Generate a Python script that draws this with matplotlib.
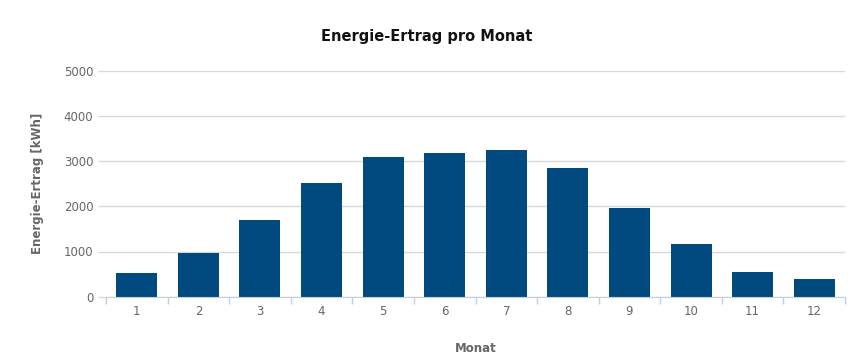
import numpy as np
import matplotlib
matplotlib.use("Agg")
import matplotlib.pyplot as plt

months = ["1", "2", "3", "4", "5", "6", "7", "8", "9", "10", "11", "12"]
ertrag = [530, 975, 1690, 2520, 3100, 3185, 3240, 2850, 1970, 1165, 555, 392]
yticks = [0, 1000, 2000, 3000, 4000, 5000]

bar_color = "#004a80"
text_gray = "#666666"

fig = plt.figure(figsize=(8.65, 3.61), dpi=100)
ax = fig.add_axes([106 / 865, 1 - 296.7 / 361, 739 / 865, 226 / 361])

x = np.arange(len(months))
ax.bar(x, ertrag, width=0.665, color=bar_color, zorder=3)

ax.set_xlim(-0.5, len(months) - 0.5)
ax.set_ylim(0, 5000)
ax.set_yticks(yticks)
ax.set_yticklabels([str(v) for v in yticks])
ax.set_xticks(x)
ax.set_xticklabels(months)
# category boundary ticks
ax.set_xticks(np.arange(-0.5, len(months)), minor=True)

ax.grid(axis="y", color="#d8d8d8", linewidth=1, zorder=0)
for s in ["top", "right", "left"]:
    ax.spines[s].set_visible(False)
ax.spines["bottom"].set_color("#c0d0e0")
ax.spines["bottom"].set_zorder(4)

ax.tick_params(axis="x", which="major", length=0, pad=6, labelsize=8.5, labelcolor=text_gray)
ax.tick_params(axis="x", which="minor", length=5, color="#c0d0e0", width=1)
ax.tick_params(axis="y", length=6, color="#d8d8d8", width=1, pad=3, labelsize=8.5, labelcolor=text_gray)

fig.text(427 / 865, 1 - 36 / 361, "Energie-Ertrag pro Monat", fontsize=10.5,
         fontweight="bold", color="#111111", ha="center", va="center")
ax.set_ylabel("Energie-Ertrag [kWh]", fontsize=8.5, fontweight="bold", color=text_gray, labelpad=14)
ax.set_xlabel("Monat", fontsize=8.5, fontweight="bold", color=text_gray, labelpad=17)

fig.savefig("out.png", dpi=100)
